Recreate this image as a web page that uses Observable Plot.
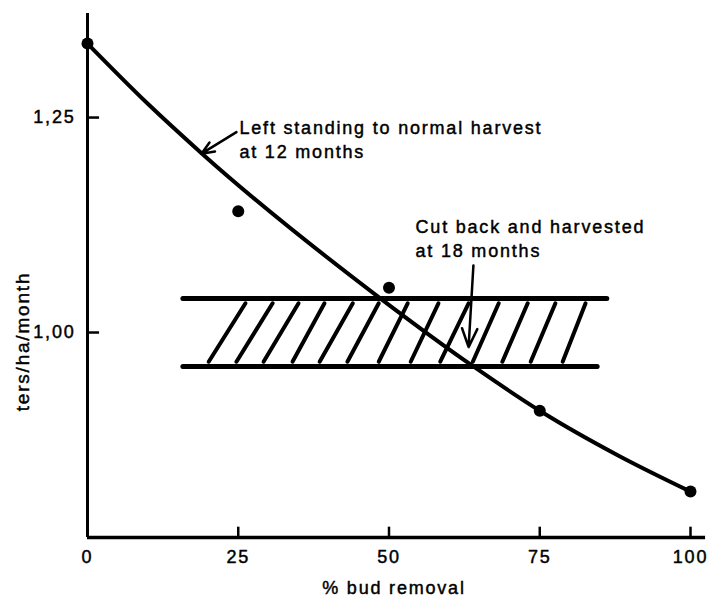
<!DOCTYPE html>
<html>
<head>
<meta charset="utf-8">
<script src="https://cdn.jsdelivr.net/npm/d3@7"></script>
<script src="https://cdn.jsdelivr.net/npm/@observablehq/plot@0.6"></script>
<style>
  html, body { margin: 0; padding: 0; background: #fff; overflow: hidden; }
  #chart svg { display: block; }
  #chart svg text { stroke: #000; stroke-width: 0.45px; }
</style>
</head>
<body>
<div id="chart"></div>
<script>
// ---- data ----
const xTicks = [0, 25, 50, 75, 100];
const yTicks = [1.00, 1.25];
const yTickLabels = ["1,00", "1,25"];
const xLabel = "% bud removal";
const yLabel = "ters/ha/month";

// observed points
const pointX = [0, 25, 50, 75, 100];
const pointY = [1.336, 1.141, 1.052, 0.909, 0.815];

// fitted curve ("Left standing to normal harvest at 12 months")
const curveX = [0, 10, 19, 48.6, 64, 75, 88, 100];
const curveY = [1.336, 1.266, 1.208, 1.0395, 0.9605, 0.909, 0.857, 0.815];

// band ("Cut back and harvested at 18 months")
const bandY = [1.0395, 0.9605];
const bandX1 = [15.9, 15.9];
const bandX2 = [86.2, 84.6];

// hatch strokes inside the band
const hatchBottomX = [20.1, 24.7, 29.2, 34.0, 38.5, 43.1, 48.3, 53.6, 58.5, 63.9, 68.8, 73.5, 78.8];
const hatchTopX    = [26.2, 30.7, 35.0, 39.3, 44.0, 48.3, 53.1, 58.2, 63.2, 68.2, 73.0, 77.6, 82.6];
const hatchY = [0.966, 1.034];

// annotations
const annoText = ["Left standing to normal harvest\nat 12 months", "Cut back and harvested\nat 18 months"];
const annoX = [25.2, 54.4];
const annoY = [1.251, 1.135];
const arrowFromX = [24.7, 64.0];
const arrowFromY = [1.233, 1.078];
const arrowToX = [18.9, 63.2];
const arrowToY = [1.208, 0.983];

// ---- tables built from the arrays ----
const points = pointX.map((x, i) => ({x, y: pointY[i]}));
const curve = curveX.map((x, i) => ({x, y: curveY[i]}));
const bands = bandY.map((y, i) => ({y, x1: bandX1[i], x2: bandX2[i]}));
const hatches = hatchBottomX.map((x, i) => ({x1: x, x2: hatchTopX[i], y1: hatchY[0], y2: hatchY[1]}));
const annos = annoText.map((t, i) => ({t, x: annoX[i], y: annoY[i]}));
const arrows = arrowFromX.map((x, i) => ({x1: x, y1: arrowFromY[i], x2: arrowToX[i], y2: arrowToY[i]}));

const yMin = 0.7616, yMax = 1.371;

const chart = Plot.plot({
  width: 714,
  height: 597,
  marginLeft: 87,
  marginRight: 24,
  marginTop: 13,
  marginBottom: 60,
  x: {domain: [0, 100]},
  y: {domain: [yMin, yMax]},
  style: {fontFamily: "'Liberation Sans', Arial, sans-serif", fontSize: "18px", color: "#000", background: "#fff", letterSpacing: "1.8px"},
  marks: [
    // axes lines
    Plot.ruleX([0], {y1: yMin, y2: yMax, stroke: "#000", strokeWidth: 3}),
    Plot.ruleY([yMin], {x1: 0, x2: 102.5, stroke: "#000", strokeWidth: 3.5}),
    // inward ticks
    Plot.ruleY(yTicks, {x1: 0, x2: 2, stroke: "#000", strokeWidth: 2.5}),
    Plot.ruleX(xTicks.slice(1), {y1: yMin, y2: yMin + 0.012, stroke: "#000", strokeWidth: 2.5}),
    Plot.axisY(yTicks, {tickSize: 0, tickPadding: 12, tickFormat: d => yTickLabels[yTicks.indexOf(d)], label: null, fontSize: 18}),
    Plot.axisX(xTicks, {tickSize: 0, tickPadding: 13, tickFormat: d => String(d), label: null, fontSize: 18}),
    Plot.text([xLabel], {frameAnchor: "bottom", dx: 5, dy: 51, fontSize: 18, lineAnchor: "middle"}),
    Plot.text([yLabel], {x: () => 0, y: () => 0.9895, dx: -65, rotate: -90, fontSize: 19, lineAnchor: "middle", style: {letterSpacing: "3.2px"}}),
    // band
    Plot.ruleY(bands, {y: "y", x1: "x1", x2: "x2", stroke: "#000", strokeWidth: 5, strokeLinecap: "round"}),
    Plot.link(hatches, {x1: "x1", y1: "y1", x2: "x2", y2: "y2", stroke: "#000", strokeWidth: 4, strokeLinecap: "round"}),
    // curve and points
    Plot.line(curve, {x: "x", y: "y", curve: "monotone-x", stroke: "#000", strokeWidth: 4}),
    Plot.dot(points, {x: "x", y: "y", r: 6, fill: "#000", stroke: "none"}),
    // annotations
    Plot.arrow(arrows, {x1: "x1", y1: "y1", x2: "x2", y2: "y2", stroke: "#000", strokeWidth: 2.5, headLength: 12, headAngle: 45, insetEnd: 0}),
    Plot.text(annos, {x: "x", y: "y", text: "t", textAnchor: "start", lineAnchor: "top", lineHeight: 1.33, fontSize: 18})
  ]
});
document.getElementById("chart").appendChild(chart);
</script>
</body>
</html>
